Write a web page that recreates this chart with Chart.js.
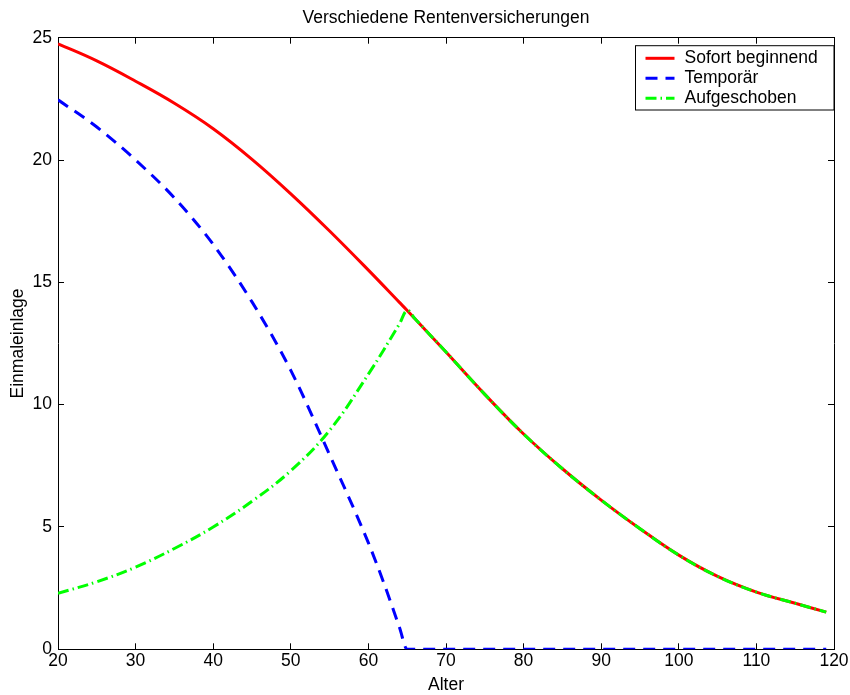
<!DOCTYPE html>
<html lang="de">
<head>
<meta charset="utf-8">
<title>Verschiedene Rentenversicherungen</title>
<script src="https://cdn.jsdelivr.net/npm/chart.js@4.4.1/dist/chart.umd.min.js"></script>
<style>
    html, body { margin: 0; padding: 0; background: #fff; }
    #chart { display: block; }
</style>
</head>
<body>
<canvas id="chart" width="850" height="695"></canvas>
<script>
// Werte
const alterSofort = [20, 25, 30, 35, 40, 45, 50, 55, 60, 64, 65, 66, 70, 75, 80, 85, 90, 95, 100, 105, 110, 115, 119];
const sofortBeginnend = [24.75, 24.05, 23.22, 22.32, 21.28, 20.03, 18.62, 17.1, 15.5, 14.18, 13.85, 13.51, 12.15, 10.42, 8.8, 7.38, 6.1, 4.93, 3.85, 2.98, 2.34, 1.88, 1.52];

const alterTemporaer = [20, 25, 30, 35, 40, 45, 50, 55, 60, 62, 64, 65, 119];
const temporaer = [22.46, 21.35, 20.0, 18.45, 16.55, 14.2, 11.4, 7.95, 4.35, 2.7, 0.9, 0, 0];

const alterAufgeschoben = [20, 25, 30, 35, 40, 45, 50, 55, 60, 64, 65, 66, 70, 75, 80, 85, 90, 95, 100, 105, 110, 115, 119];
const aufgeschoben = [2.29, 2.76, 3.36, 4.12, 5.0, 6.05, 7.3, 8.95, 11.25, 13.3, 13.85, 13.51, 12.15, 10.42, 8.8, 7.38, 6.1, 4.93, 3.85, 2.98, 2.34, 1.88, 1.52];

const xTicks = [20, 30, 40, 50, 60, 70, 80, 90, 100, 110, 120];
const yTicks = [0, 5, 10, 15, 20, 25];

const schrift = '"Liberation Sans", Arial, Helvetica, sans-serif';
const groesse = 17.5;
Chart.defaults.font.family = schrift;
Chart.defaults.font.size = groesse;
Chart.defaults.color = "#000";

function punkte(xs, ys) {
    return xs.map((x, i) => ({ x: x, y: ys[i] }));
}

// Legende im Plotbereich oben rechts, mit Rahmen (wie in MATLAB)
const legendeImPlot = {
    id: "legendeImPlot",
    afterDraw(chart) {
        const { ctx, chartArea } = chart;
        const breite = 198.5;
        const hoehe = 64.3;
        const x0 = chartArea.right - breite;
        const y0 = chartArea.top + 8;

        ctx.save();
        ctx.fillStyle = "#fff";
        ctx.fillRect(x0, y0, breite, hoehe);
        ctx.strokeStyle = "#000";
        ctx.lineWidth = 1;
        ctx.strokeRect(x0, y0, breite, hoehe);

        chart.data.datasets.forEach((ds, i) => {
            const y = y0 + 12.6 + i * 20;
            ctx.beginPath();
            ctx.setLineDash(ds.borderDash || []);
            ctx.strokeStyle = ds.borderColor;
            ctx.lineWidth = ds.borderWidth;
            ctx.moveTo(x0 + 10, y);
            ctx.lineTo(x0 + 39, y);
            ctx.stroke();

            ctx.setLineDash([]);
            ctx.fillStyle = "#000";
            ctx.font = groesse + "px " + schrift;
            ctx.textBaseline = "middle";
            ctx.textAlign = "left";
            ctx.fillText(ds.label, x0 + 49, y);
        });
        ctx.restore();
    }
};

function achse(position, min, max, ticks, extra) {
    const horizontal = position === "bottom" || position === "top";
    return Object.assign({
        type: "linear",
        position: position,
        min: min,
        max: max,
        afterBuildTicks: s => { s.ticks = ticks.map(v => ({ value: v })); },
        grid: { drawOnChartArea: false, drawTicks: true, tickLength: -6, color: "#000", lineWidth: 1 },
        border: { display: true, color: "#000", width: 1 },
        ticks: { display: false, autoSkip: false, maxRotation: 0, color: "#000" },
        afterFit: s => { if (horizontal) s.height = 0; else s.width = 0; }
    }, extra);
}

new Chart(document.getElementById("chart"), {
    type: "line",
    data: {
        datasets: [
            {
                label: "Sofort beginnend",
                data: punkte(alterSofort, sofortBeginnend),
                borderColor: "#ff0000",
                borderWidth: 3,
                cubicInterpolationMode: "default",
                tension: 0.4,
                order: 3
            },
            {
                label: "Temporär",
                data: punkte(alterTemporaer, temporaer),
                borderColor: "#0000ff",
                borderWidth: 3,
                borderDash: [12, 8],
                cubicInterpolationMode: "monotone",
                order: 2
            },
            {
                label: "Aufgeschoben",
                data: punkte(alterAufgeschoben, aufgeschoben),
                borderColor: "#00ff00",
                borderWidth: 3,
                borderDash: [11, 4, 1.5, 4],
                cubicInterpolationMode: "default",
                tension: 0.4,
                order: 1
            }
        ]
    },
    options: {
        animation: false,
        responsive: false,
        devicePixelRatio: 1,
        layout: { padding: { left: 0, right: 16, top: 0, bottom: 0 } },
        elements: {
            point: { radius: 0, hoverRadius: 0 },
            line: { fill: false, borderCapStyle: "butt" }
        },
        plugins: {
            legend: { display: false },
            tooltip: { enabled: false },
            title: {
                display: true,
                fullSize: false,
                text: "Verschiedene Rentenversicherungen",
                color: "#000",
                font: { size: groesse, weight: "normal", lineHeight: 1.2 },
                padding: { top: 7.2, bottom: 9.5 }
            }
        },
        scales: {
            x: achse("bottom", 20, 120, xTicks, {
                // Abstand ueber die Zeilenhoehe, damit der rechte Rand nicht waechst
                ticks: { display: true, padding: 0, autoSkip: false, maxRotation: 0, color: "#000", font: { size: groesse, lineHeight: 2.023 } },
                afterFit: s => { s.height = 45.7; },
                title: { display: true, text: "Alter", color: "#000", font: { size: groesse, lineHeight: 1 }, padding: { top: 0, bottom: 0.75 } }
            }),
            y: achse("left", 0, 25, yTicks, {
                ticks: { display: true, padding: 12, color: "#000" },
                afterFit: s => { s.width = 58; },
                title: { display: true, text: "Einmaleinlage", color: "#000", font: { size: groesse, lineHeight: 1 }, padding: { top: 9.25, bottom: 0 } }
            }),
            x2: achse("top", 20, 120, xTicks, {}),
            y2: achse("right", 0, 25, yTicks, {})
        }
    },
    plugins: [legendeImPlot]
});
</script>
</body>
</html>
